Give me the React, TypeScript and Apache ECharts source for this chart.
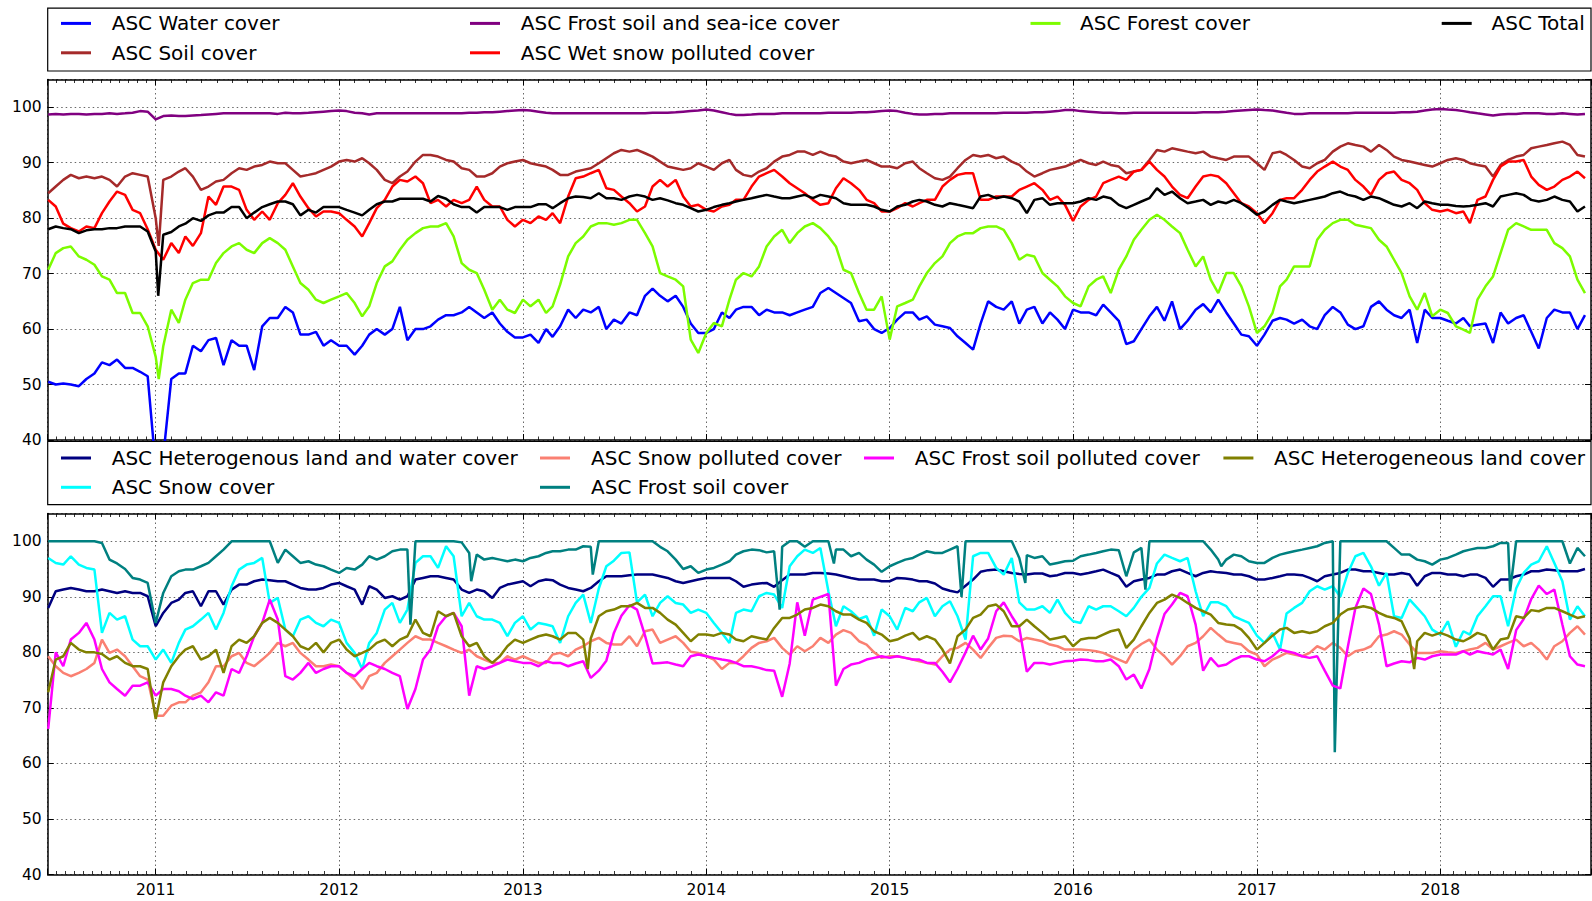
import React, { useEffect, useRef } from "react";
import * as echarts from "echarts";

// ---------- x positions: 1st and 16th of each month, Jun 2010 .. Oct 2018 ----------
function buildDates(): string[] {
  const out: string[] = [];
  for (let y = 2010; y <= 2018; y++) {
    for (let m = 1; m <= 12; m++) {
      if (y === 2010 && m < 6) continue;
      if (y === 2018 && m > 10) continue;
      for (const d of [1, 16]) out.push(`${y}-${String(m).padStart(2, "0")}-${String(d).padStart(2, "0")}`);
    }
  }
  return out;
}
const DATES = buildDates();
const X_MIN = "2010-05-31";
const X_MAX = "2018-10-28";

// ---------- top panel series ----------
const WATER = [
  50.5, 50, 50.2, 50, 49.7, 51, 52, 54, 53.5, 54.5, 53, 53, 52.3, 51.5,
  35, 37, 51, 52, 52, 57, 56, 58, 58.4, 53.5, 58, 57, 57, 52.6, 60.5, 62, 62, 64, 63, 59, 59, 59.5, 57, 58,
  57, 57, 55.4, 57, 59, 60, 59, 60, 64, 58, 60, 60, 60.5, 61.7, 62.5, 62.5, 63, 64, 63, 62, 63, 61, 59.5, 58.5,
  58.5, 59, 57.5, 60, 58.6, 60.5, 63.5, 62, 63.5, 63, 64, 60, 61.7, 61, 63, 62.5, 66, 67.3, 66, 65, 66, 64, 61, 59.3,
  59.3, 60, 63, 62, 63.5, 64, 64, 62.5, 63.5, 63, 63, 62.5, 63, 63.5, 64, 66.5, 67.4, 66.5, 65.6, 64.7, 61.4, 61.7, 60, 59.3,
  60.2, 61.7, 63, 63, 61.7, 62.3, 60.8, 60.5, 60.2, 58.7, 57.5, 56.3, 61, 65, 64, 63.5, 65, 61, 63.5, 64, 61, 63, 61.7, 60,
  63.5, 63, 63, 62.5, 64.4, 63, 61.5, 57.3, 57.8, 60, 62.3, 64, 61.5, 65, 60, 61.5, 63.5, 64.5, 63, 65.3, 63, 61, 59, 58.7,
  57, 59, 61.5, 62, 61.7, 61, 61.7, 60.5, 60, 62.5, 64, 63, 60.8, 60, 60.5, 64, 65, 63.5, 62.5, 62, 63.5, 57.5, 63.5, 62,
  62, 61.5, 61, 62, 60.5, 60.8, 61, 57.5, 63, 61, 62, 62.5, 59.5, 56.5, 62, 63.5, 63, 63, 60, 62.5,
];
const WATER_EXTRA: [string, number][] = [["2011-01-08", 30]];

const SOIL = [
  84.5, 85.7, 86.9, 87.8, 87.2, 87.5, 87.2, 87.5, 86.9, 85.7, 87.5, 88.1, 87.8, 87.5,
  80, 86.9, 87.5, 88.4, 89, 87.5, 85.1, 85.7, 86.6, 86.9, 88.1, 89, 88.7, 89.3, 89.6, 90.2, 89.9, 89.9, 88.7, 87.5, 87.8, 88.1, 88.7, 89.3,
  90.2, 90.5, 90.2, 90.8, 89.9, 88.7, 86.9, 86.3, 87.5, 88.4, 90.2, 91.4, 91.4, 91.1, 90.5, 90.2, 89, 88.7, 87.5, 87.5, 88.1, 89.3, 89.9, 90.2,
  90.5, 89.9, 89.6, 89.3, 88.7, 87.8, 87.8, 88.4, 88.7, 89, 89.9, 90.8, 91.7, 92.3, 92, 92.3, 91.7, 91.1, 90.2, 89.3, 89, 88.7, 89, 89.9,
  89.3, 88.7, 89.9, 90.5, 88.7, 87.8, 87.5, 88.4, 89, 90.2, 91.1, 91.4, 92, 92, 91.4, 92, 91.4, 91.1, 90.2, 89.9, 90.2, 90.5, 89.9, 89.3,
  89.3, 89, 89.9, 90.2, 89, 88.1, 87.2, 86.9, 87.5, 89, 90.5, 91.4, 91.1, 91.4, 90.8, 91.1, 90.2, 89.6, 88.4, 87.5, 88.1, 88.7, 89, 89.3,
  89.9, 90.5, 89.9, 89.6, 90.2, 89.6, 89.3, 88.1, 88.4, 88.7, 90.5, 92.3, 92, 92.6, 92.3, 92, 91.7, 92, 91.1, 90.8, 90.5, 91.1, 91.1, 91.1,
  89.9, 88.7, 91.7, 92, 91.4, 90.5, 89.3, 89, 89.9, 90.5, 92, 92.9, 93.5, 93.2, 92.9, 92, 93.2, 92.3, 91.1, 90.5, 90.2, 89.9, 89.6, 89.3,
  89.9, 90.5, 90.8, 90.5, 89.9, 89.6, 89.3, 87.5, 89.6, 90.5, 91.1, 91.4, 92.6, 92.9, 93.2, 93.5, 93.8, 93.2, 91.4, 91.1,
];
const SOIL_EXTRA: [string, number][] = [["2011-01-07", 75]];

const SEA_ICE = [
  98.7, 98.8, 98.7, 98.8, 98.8, 98.7, 98.8, 98.8, 98.9, 98.8, 98.9, 99.0, 99.3, 99.2,
  97.8, 98.4, 98.5, 98.4, 98.4, 98.5, 98.6, 98.7, 98.8, 98.9, 98.9, 98.9, 98.9, 98.9, 98.9, 98.9, 98.8, 99.0, 98.9, 98.9, 99.0, 99.1, 99.2, 99.3,
  99.4, 99.3, 99.0, 98.9, 98.7, 98.9, 98.9, 98.9, 98.9, 98.9, 98.9, 98.9, 98.9, 98.9, 98.9, 98.9, 98.9, 99.0, 99.0, 99.1, 99.1, 99.2, 99.3, 99.4,
  99.5, 99.4, 99.2, 99.0, 98.9, 98.9, 98.9, 98.9, 98.9, 98.9, 98.9, 98.9, 98.9, 98.9, 98.9, 98.9, 98.9, 99.0, 99.0, 99.0, 99.1, 99.2, 99.3, 99.4,
  99.6, 99.4, 99.1, 98.8, 98.6, 98.6, 98.7, 98.8, 98.8, 98.8, 98.9, 98.9, 98.9, 98.9, 98.9, 98.9, 99.0, 99.0, 99.0, 99.0, 99.1, 99.1, 99.2, 99.3,
  99.4, 99.3, 99.0, 98.8, 98.7, 98.7, 98.8, 98.8, 98.9, 98.9, 98.9, 98.9, 98.9, 98.9, 98.9, 99.0, 99.0, 99.0, 99.0, 99.1, 99.1, 99.2, 99.3, 99.5,
  99.5, 99.3, 99.2, 99.1, 99.0, 99.0, 98.9, 98.9, 99.0, 99.0, 99.0, 99.0, 99.0, 99.0, 99.0, 99.0, 99.0, 99.1, 99.1, 99.1, 99.2, 99.3, 99.4, 99.5,
  99.6, 99.5, 99.4, 99.2, 99.0, 98.8, 98.8, 98.9, 98.9, 98.9, 98.9, 98.9, 98.9, 99.0, 99.0, 99.0, 99.0, 99.0, 99.0, 99.1, 99.1, 99.2, 99.4, 99.6,
  99.7, 99.6, 99.5, 99.3, 99.1, 98.9, 98.7, 98.5, 98.7, 98.8, 98.8, 98.9, 98.9, 98.9, 98.8, 98.8, 98.9, 98.8, 98.7, 98.8,
];

const WET_SNOW = [
  83.3, 82.1, 79, 78.2, 77.6, 78.5, 78.2, 80.9, 83, 84.8, 84.2, 81.5, 80.9, 78,
  74.3, 72.5, 75.5, 73.7, 76.7, 75, 77.3, 83.9, 82.4, 85.7, 85.7, 85.1, 81.5, 79.7, 81.2, 79.7, 82.7, 84.2, 86.3, 83.9, 81.8, 80.3, 81.2, 81.2,
  80.9, 79.7, 78.5, 76.7, 79.1, 81.8, 83.3, 85.7, 86.9, 86.6, 87.5, 86.3, 82.7, 83.3, 82.1, 83.3, 82.7, 83.3, 85.7, 83.3, 82.1, 82.1, 79.7, 78.5,
  79.7, 79.1, 80.3, 79.7, 80.9, 79.1, 83.9, 87.2, 87.5, 88.1, 88.7, 85.4, 85.1, 83.9, 82.7, 81.2, 82.1, 85.7, 86.9, 85.7, 86.9, 83.9, 82.1, 82.4,
  81.5, 81.2, 82.1, 82.4, 83.3, 83.3, 85.7, 87.5, 88.1, 88.7, 87.5, 86.3, 85.4, 84.5, 83.3, 82.4, 82.7, 85.4, 87.2, 86.3, 85.1, 83.3, 82.7, 81.2,
  81.2, 81.8, 82.7, 82.1, 82.7, 83.3, 83.3, 85.7, 86.9, 87.8, 88.1, 88.1, 83.3, 83.3, 83.9, 83.9, 83.9, 85.1, 85.7, 86.3, 85.1, 83.3, 83.9, 82.4,
  79.5, 82.1, 83.3, 83.9, 86.3, 86.9, 87.5, 86.9, 88.4, 88.7, 90.2, 88.7, 87.5, 85.7, 84.2, 83.6, 85.7, 87.5, 87.8, 87.5, 86.3, 84.5, 82.7, 82.1,
  80.9, 79.1, 80.9, 83.3, 83.6, 83.6, 85.1, 86.9, 88.4, 89.3, 90.2, 89.3, 88.7, 86.9, 85.7, 84.2, 86.9, 88.1, 88.4, 86.9, 86.3, 85.1, 82.7, 81.5,
  81.2, 81.5, 80.9, 81.2, 79.1, 83.3, 83.9, 86.9, 89.3, 90.2, 90.2, 90.5, 87.5, 86, 85.1, 85.7, 86.9, 87.5, 88.4, 87.2,
];

const FOREST = [
  70.7, 73.7, 74.6, 74.9, 73.1, 72.5, 71.6, 69.5, 68.9, 66.5, 66.5, 62.9, 62.9, 60.5,
  55, 56.9, 63.5, 61.1, 65.3, 68.3, 68.9, 68.9, 71.9, 73.7, 74.9, 75.5, 74.3, 73.7, 75.5, 76.4, 75.5, 74.3, 71.3, 68.3, 67.1, 65.3, 64.7, 65.3,
  65.9, 66.5, 64.7, 62.3, 64.1, 68.3, 71.3, 72.2, 74.3, 76.1, 77.3, 78.2, 78.5, 78.5, 79.1, 76.7, 71.9, 70.7, 70.1, 67.1, 63.5, 65.3, 63.5, 62.9,
  65.3, 64.1, 65.3, 62.9, 64.1, 68, 73.1, 75.5, 76.7, 78.5, 79.1, 79.1, 78.8, 79.1, 79.7, 79.7, 77.3, 74.9, 70.1, 69.5, 68.9, 67.7, 58.1, 55.7,
  59.3, 61.1, 60.5, 65.3, 68.9, 70.1, 69.5, 71.3, 74.9, 76.7, 77.9, 75.5, 77.3, 78.5, 79.1, 78.2, 76.7, 74.9, 70.7, 70.1, 66.5, 63.5, 63.5, 65.9,
  58.1, 64.1, 64.7, 65.3, 67.7, 70.1, 71.9, 73.1, 75.5, 76.7, 77.3, 77.3, 78.2, 78.5, 78.5, 77.9, 75.5, 72.5, 73.4, 73.1, 70.1, 68.9, 67.7, 65.9,
  64.7, 64.1, 67.7, 68.9, 69.5, 66.5, 70.7, 73.1, 76.1, 77.9, 79.7, 80.6, 79.7, 78.5, 77.3, 74.3, 71.3, 73.1, 68.9, 66.5, 70.1, 70.1, 67.7, 64.1,
  59.3, 60.5, 62.9, 67.7, 68.9, 71.3, 71.3, 71.3, 76.1, 77.9, 79.1, 79.7, 79.7, 78.8, 78.5, 78.2, 76.1, 74.9, 72.5, 70.1, 65.9, 63.5, 66.5, 62.3,
  63.5, 62.9, 60.5, 59.9, 59.3, 65.3, 67.7, 69.5, 73.7, 77.9, 79.1, 78.5, 77.9, 77.9, 77.9, 75.5, 74.6, 73.1, 68.9, 66.5,
];
const FOREST_EXTRA: [string, number][] = [["2011-01-07", 51]];

const TOTAL = [
  78, 78.5, 78.2, 78, 77.3, 77.8, 78, 78, 78.2, 78.2, 78.5, 78.5, 78.5, 77.6,
  74, 77, 77.5, 78.5, 79, 80, 79.5, 80.5, 81, 81, 82, 82, 80, 81, 82, 82.5, 83, 83, 82.5, 80.5, 81.5, 81, 82, 82,
  82, 81.5, 81, 80.5, 81.5, 82.5, 83, 83, 83.5, 83.5, 83.5, 83.5, 83, 84, 83.5, 82.5, 82, 82, 81, 82, 82, 82, 81.5, 82,
  82, 82, 82.5, 82.5, 81.8, 82.7, 83.6, 83.9, 83.8, 83.6, 84.5, 83.6, 83.6, 83.3, 83.9, 84.2, 83.9, 83.3, 83.6, 83.2, 82.7, 82.4, 81.8, 81.2,
  81.5, 82, 82.4, 82.7, 83, 83.3, 83.6, 83.9, 84.2, 83.9, 83.6, 83.6, 83.9, 84.2, 83.6, 84.2, 83.9, 83.6, 82.7, 82.4, 82.4, 82.4, 82.1, 81.5,
  81.2, 82.1, 82.4, 83, 83.3, 83, 82.4, 82.1, 82.7, 82.4, 82.1, 81.8, 83.9, 84.2, 83.6, 83.9, 83.6, 83, 80.9, 83.3, 83.6, 82.4, 82.7, 82.7,
  82.7, 83, 83.6, 83.3, 83.9, 83.6, 82.4, 81.8, 82.4, 83, 83.6, 85.4, 84.2, 84.8, 83.6, 82.7, 83, 83.3, 82.4, 83, 82.7, 83.3, 82.7, 81.8,
  80.6, 81.2, 82.4, 83.3, 83, 82.7, 83, 83.3, 83.6, 83.9, 84.5, 84.8, 84.2, 83.9, 83.3, 83.9, 83.6, 83, 82.4, 82.1, 82.7, 81.8, 83, 82.7,
  82.4, 82.4, 82.2, 82.1, 82.2, 82.4, 82.7, 82.1, 83.9, 84.2, 84.5, 84.2, 83.3, 83, 83.3, 83.9, 83.3, 83, 81.2, 82.1,
];
const TOTAL_EXTRA: [string, number][] = [["2011-01-06", 66]];

// ---------- bottom panel series ----------
const HET_LAND_WATER = [
  88, 91, 91.3, 91.6, 91.3, 91, 91, 91.3, 91, 90.7, 91, 90.7, 90.7, 90.1,
  84.7, 87.1, 88.9, 89.5, 90.7, 91, 88.3, 91, 91, 88.6, 91.3, 92.2, 92.2, 92.8, 93.1, 93, 92.8, 92.8, 92.2, 91.6, 91.3, 91.3, 91.6, 92.2,
  92.5, 91.9, 91.3, 88.6, 91.9, 91.3, 89.8, 90.1, 89.5, 90.1, 93.1, 93.4, 93.7, 93.7, 93.4, 93.1, 91.3, 90.7, 91.3, 91, 89.8, 91.6, 92.2, 92.5,
  92.8, 91.9, 92.8, 93.1, 93, 92.2, 91.6, 91.3, 91, 91.6, 92.8, 93.7, 93.7, 93.7, 93.9, 94, 94, 94, 93.7, 93.4, 92.8, 92.5, 92.8, 93.1,
  93.4, 93.4, 93.4, 93.4, 92.8, 91.8, 92.2, 92.4, 92.5, 91.8, 93, 94, 94, 94, 94.3, 94.3, 94.2, 94, 93.7, 93.4, 93.1, 93.1, 93.1, 92.8,
  92.8, 93.4, 93.3, 93.1, 92.8, 92.8, 92.4, 91.5, 91.1, 90.8, 92, 93.1, 94.5, 94.8, 94.9, 94.6, 94.3, 94.1, 94, 94.2, 94.2, 93.7, 93.9, 94.3,
  94.3, 94, 94.3, 94.6, 94.9, 94.3, 93.7, 91.8, 92.8, 93.1, 93.4, 94, 94, 94.6, 94.9, 94.3, 93.7, 94.3, 94.6, 94.4, 94.3, 94, 94, 93.7,
  93.1, 93.1, 93.4, 93.7, 94, 94, 93.9, 93.4, 92.8, 93.7, 94, 94.3, 94.9, 94.9, 94.6, 94.6, 94.3, 94, 94, 94.3, 94, 92, 93.7, 94.3,
  94.3, 94, 94, 93.7, 94, 94, 93.4, 91.8, 93.1, 93.1, 93.7, 94, 94.6, 94.6, 94.9, 94.8, 94.6, 94.6, 94.6, 95,
];

const SNOW = [
  97, 96.1, 95.8, 97.3, 95.8, 95.2, 94.9, 83.5, 87.1, 85.9, 86.5, 82.3, 81.1, 81.1,
  78.7, 80.5, 78.1, 81.7, 84.1, 84.7, 85.9, 87.1, 84.1, 87.1, 91.9, 94.9, 95.8, 96.1, 97, 88.9, 89.8, 84.1, 82.9, 85.9, 86.5, 85.3, 84.7, 85.9,
  85.3, 81.7, 79.9, 77, 81.7, 83.5, 87.7, 88.9, 85.3, 87.7, 96.1, 97.3, 97.3, 95.2, 99.1, 97.3, 86.5, 88.9, 86.5, 85.9, 85.9, 85.3, 82.9, 85.3,
  86.5, 84.1, 85.3, 85, 84.7, 81.7, 86.5, 88.9, 90.4, 85.3, 91.5, 95.5, 96.5, 97.9, 98, 89, 90.4, 86.5, 88.9, 90.1, 88.9, 88.6, 87.1, 87.7,
  87.1, 85.3, 83.5, 81.7, 87.1, 87.7, 87.4, 90.1, 90.7, 90.4, 88, 95.5, 97.3, 98.5, 97.9, 98.8, 91, 84.7, 88.3, 87.4, 86, 86.5, 83, 87.7,
  86.5, 84.1, 88, 87.4, 89, 89.8, 86.5, 88.3, 89.2, 86.5, 82.3, 97.3, 97.9, 97.9, 95.2, 94, 97, 89, 87.7, 87.7, 88.3, 87.1, 89.5, 87.1,
  85.6, 85.3, 88.3, 87.7, 88.3, 88.3, 87.4, 86.5, 88, 90, 91.6, 96, 97.6, 97, 96.4, 97, 91, 86.5, 89, 89, 88.3, 86.5, 85.9, 85.3,
  83, 81.7, 83.5, 80.5, 87, 88, 88.9, 91, 91.9, 91.3, 91.9, 90, 94.3, 97.3, 97.9, 95.5, 92, 94.3, 86.5, 86.2, 89.5, 88, 86.5, 84.1,
  83.2, 85.6, 81, 83.8, 83.2, 86.5, 88.3, 90.1, 90.1, 84.7, 91.5, 94.3, 95.8, 96.4, 99.1, 96.1, 92.8, 85.9, 88.3, 86.5,
];

const SNOW_POLLUTED = [
  79.3, 77.5, 76.3, 75.7, 76.3, 77, 78.1, 82.3, 79.9, 80.5, 79.3, 77.5, 75.7, 75.1,
  68.6, 68.6, 70.4, 71, 71, 72.2, 72.8, 74.6, 77.5, 77.5, 79.3, 79.9, 78.1, 77.5, 78.7, 79.9, 81.7, 81.1, 81.7, 79.9, 78.7, 77.5, 77.5, 77.8,
  77.5, 76.3, 75.1, 73.4, 75.7, 76.3, 78.1, 79.3, 80.5, 81.7, 82.9, 82.3, 82.3, 81.7, 81.1, 80.5, 79.9, 80.5, 79.3, 78.7, 78.1, 78.1, 79.3, 78.7,
  79.3, 78.7, 78.1, 78.1, 79.6, 79.9, 79.3, 80.5, 81.1, 82, 82.6, 81.7, 81.4, 81.4, 82.9, 81.1, 83.8, 84.1, 81.7, 82.3, 82.9, 81.7, 80.1, 79.9,
  79.3, 78.7, 77, 78.1, 78.1, 79.3, 80.8, 81.7, 82, 82.6, 80.8, 79.6, 81.1, 80.2, 81.1, 82.6, 81.7, 83.2, 84, 83.5, 82, 81.4, 80, 79,
  79.3, 79.3, 79, 78.7, 78.4, 78.1, 77.8, 79.3, 80.5, 80.8, 81.7, 80.5, 79, 80.8, 82.6, 83, 82.9, 82, 82.6, 82.3, 82, 81.4, 81.1, 80.5,
  80.5, 80.5, 80.4, 80.2, 79.9, 79.3, 78.7, 78.1, 80.5, 81.5, 82.3, 80.5, 79.3, 77.8, 79.3, 81.1, 81.7, 82.9, 84.4, 83.2, 82, 81.7, 81.4, 80.2,
  79.6, 77.5, 78.7, 79.3, 79.9, 79.6, 79.3, 79.9, 81.1, 80.5, 81.7, 80.8, 79.3, 80.2, 80.5, 81.1, 82.9, 83.2, 83.8, 83.2, 81.4, 79.9, 79.9, 79.9,
  80.2, 80, 79.9, 80.2, 80.5, 80.8, 81.7, 80.5, 81.1, 81.7, 82.3, 81.1, 81.7, 80.5, 78.7, 81.1, 82, 83.5, 84.7, 83.2,
];

const FROST_SOIL = [
  100, 100, 100, 100, 100, 100, 100, 99.7, 96.7, 96, 95, 93.4, 93.1, 92.5,
  85.3, 90.7, 93.7, 94.6, 94.9, 94.9, 95.5, 96.1, 97.3, 98.5, 100, 100, 100, 100, 100, 100, 96.1, 98.5, 97.3, 96.1, 96.4, 95.8, 95.5, 94.9,
  94.3, 95.2, 94.9, 95.8, 97.3, 96.7, 97.3, 98.2, 98.5, 98.5, 100, 100, 100, 100, 100, 100, 99.8, 97.9, 97.6, 96.7, 97, 96.7, 96.4, 96.7,
  96.4, 97, 97.3, 97.9, 98.2, 98.2, 98.5, 98.5, 99.1, 99, 100, 100, 100, 100, 100, 100, 100, 100, 99, 98.2, 96.7, 95, 95.5, 94.3,
  94.9, 95.2, 95.8, 96.4, 97.6, 98.2, 98.5, 98.4, 98, 98.2, 99, 100, 100, 99, 100, 100, 100, 98.5, 98.5, 97.3, 97.9, 96.7, 95.8, 94.5,
  95.5, 96.1, 96.7, 97, 97.6, 98.2, 97.9, 97.9, 98.5, 99.1, 100, 100, 100, 100, 100, 100, 100, 97, 97.5, 97, 97.3, 95.8, 96.1, 96.4,
  96.5, 97.3, 97.6, 97.9, 98.2, 98.5, 98.4, 93.7, 98, 98.8, 100, 100, 100, 100, 100, 100, 100, 100, 98.5, 96.7, 96.7, 97.6, 97.3, 96.4,
  96.1, 96.1, 97, 97.6, 97.9, 98.2, 98.5, 98.8, 99.1, 99.7, 100, 100, 100, 100, 100, 100, 100, 100, 98.8, 97.6, 97.6, 96.7, 96.4, 95.8,
  96.7, 97, 97.6, 98.2, 98.5, 98.8, 98.8, 99.1, 99.7, 99.7, 100, 100, 100, 100, 100, 100, 100, 96, 98.8, 97.3,
];
const FROST_SOIL_EXTRA: [string, number][] = [
  ["2012-05-22", 85], ["2012-09-20", 92.8], ["2013-05-20", 94], ["2014-05-27", 87.7],
  ["2014-09-12", 96], ["2015-05-24", 90], ["2015-09-28", 92.5], ["2016-05-24", 91.3],
  ["2016-10-22", 95.5], ["2017-06-05", 62], ["2018-05-20", 91],
];

const FROST_SOIL_POLLUTED = [
  66.2, 80, 77.5, 82.3, 83.5, 85.3, 82.3, 77, 74.6, 73.4, 72.2, 74, 74, 74.6,
  72.2, 73.4, 73.4, 73, 72.2, 71.6, 72.2, 71, 72.8, 72.2, 77, 76.3, 79.3, 82.9, 85.3, 89.5, 85.9, 75.7, 75.1, 76.3, 78.1, 76.3, 77, 77.5,
  77.5, 76.3, 75.7, 77, 78.1, 77.5, 77, 76.3, 75.7, 69.8, 73.4, 78.7, 80.5, 84.7, 86.5, 87.1, 84.7, 72.2, 77.5, 77, 77.5, 78.1, 78.7, 78.4,
  78.1, 78.1, 77.5, 78.4, 78.1, 78.1, 77.5, 78, 78.4, 75.4, 76.7, 78.5, 83.5, 86.6, 88.5, 87.7, 83, 78, 78.1, 78.2, 77.8, 77.5, 79.3, 79.6,
  79.3, 79, 78.7, 78.5, 78.1, 77.5, 77.5, 77.2, 76.8, 76.7, 72, 78, 89, 83, 89.5, 90, 90.5, 74, 77, 77.8, 78.1, 78.7, 79, 79.3,
  79, 79.3, 79, 78.7, 78.7, 78.1, 78.1, 76.5, 74.6, 77, 80, 83, 80.5, 82.5, 87.4, 89, 86.5, 84.4, 76.5, 78.1, 78.1, 77.8, 78.1, 78.4,
  78.5, 78.7, 78.6, 78.4, 78.4, 78.7, 77.5, 75.1, 76, 73.5, 77, 82.5, 86.9, 88.6, 90.7, 90.1, 85, 76.7, 79, 77.5, 77.8, 78.7, 79.3, 79.3,
  78.7, 78.4, 79.3, 80.5, 80.2, 79.9, 79.3, 79, 79.3, 76.7, 74, 73.5, 81, 88, 91.5, 90.5, 85, 77.5, 78, 78.4, 78.2, 79, 78.7, 79.3,
  79.6, 79.6, 79.6, 80.2, 79.6, 80.2, 79.9, 79.6, 80.5, 77, 84, 86, 89.6, 92, 90.5, 91.3, 85, 79.3, 77.8, 77.5,
];

const HET_LAND = [
  72.8, 78.7, 79.3, 81.7, 80.5, 80, 80, 79.7, 78.7, 79.3, 78.1, 77.5, 77.5, 77,
  68, 74.6, 77.5, 79.3, 80.5, 81.1, 78.7, 79.3, 80.5, 76.3, 81.1, 82.3, 81.7, 82.9, 85.3, 86.2, 85.3, 84.1, 82.9, 81.1, 80.5, 81.7, 80, 81.7,
  82.3, 80.5, 79.3, 79.9, 80.5, 81.7, 82.3, 81.1, 82.3, 82.9, 85.9, 83.5, 82.9, 87.4, 86.5, 87.1, 82.9, 81.1, 81.7, 79.3, 78.1, 79.3, 81.1, 82.3,
  81.7, 82.3, 82.9, 83.2, 82.9, 82.3, 83.5, 83.5, 82.3, 82.5, 86.5, 87.4, 87.7, 88.3, 88.3, 88.9, 88, 88, 87.1, 85.9, 85, 83.5, 82, 83.2,
  83.2, 83, 83.5, 83.2, 82.3, 82, 82.9, 82.6, 82.3, 84.4, 86.2, 86.2, 86.8, 87.7, 88, 88.6, 88.3, 87.4, 86.8, 86.8, 85.9, 85.3, 83.8, 83.2,
  82, 82.3, 83, 83.5, 82.3, 82.9, 82.3, 80.5, 78, 82.9, 84.1, 86.2, 86.8, 88.3, 88.6, 87.4, 84.7, 84.7, 85.9, 84.7, 83.5, 82.3, 82.6, 82.9,
  81.1, 82.3, 82.6, 82.6, 83.2, 83.8, 84.1, 80.8, 82.3, 84.7, 87.1, 88.9, 89.5, 90.4, 89.8, 88.9, 88, 87.4, 86.8, 85.3, 85, 84.9, 84.1, 82.6,
  80.5, 81.7, 83, 84.1, 84.4, 83.5, 83.8, 83.5, 83.8, 84.7, 85.3, 86.8, 87.7, 88, 88.3, 88, 87.1, 86.5, 86.2, 85.6, 82.5, 82, 83.5, 83,
  83.5, 83, 82.3, 82, 82.6, 83.5, 83, 80.5, 82.3, 82.6, 86.5, 86.2, 87.6, 87.4, 88, 88, 87.4, 86.8, 86.2, 86.5,
];
const HET_LAND_EXTRA: [string, number][] = [["2013-05-10", 77], ["2017-11-10", 77]];

// ---------- series definitions (names, colours) ----------
type Def = { name: string; color: string; values: number[]; extra?: [string, number][] };
const TOP_SERIES: Def[] = [
  { name: "ASC Water cover", color: "#0000ff", values: WATER, extra: WATER_EXTRA },
  { name: "ASC Soil cover", color: "#a52a2a", values: SOIL, extra: SOIL_EXTRA },
  { name: "ASC Frost soil and sea-ice cover", color: "#800080", values: SEA_ICE },
  { name: "ASC Wet snow polluted cover", color: "#ff0000", values: WET_SNOW },
  { name: "ASC Forest cover", color: "#7cfc00", values: FOREST, extra: FOREST_EXTRA },
  { name: "ASC Total", color: "#000000", values: TOTAL, extra: TOTAL_EXTRA },
];
const BOTTOM_SERIES: Def[] = [
  { name: "ASC Heterogenous land and water cover", color: "#000080", values: HET_LAND_WATER },
  { name: "ASC Snow cover", color: "#00ffff", values: SNOW },
  { name: "ASC Snow polluted cover", color: "#fa8072", values: SNOW_POLLUTED },
  { name: "ASC Frost soil cover", color: "#008080", values: FROST_SOIL, extra: FROST_SOIL_EXTRA },
  { name: "ASC Frost soil polluted cover", color: "#ff00ff", values: FROST_SOIL_POLLUTED },
  { name: "ASC Heterogeneous land cover", color: "#808000", values: HET_LAND, extra: HET_LAND_EXTRA },
];

const Y_MIN = 40;
const Y_MAX = 105;
const Y_STEP = 10;

function pairs(vals: number[], extra: [string, number][] = []) {
  const pts: [string, number][] = DATES.map((d, k) => [d, vals[k]] as [string, number]);
  const all = pts.concat(extra);
  all.sort((a, b) => (a[0] < b[0] ? -1 : a[0] > b[0] ? 1 : 0));
  return all;
}

const FONT = "DejaVu Sans";
const DAY = 24 * 3600 * 1000;
const LINE_W = 2.5;

// ---------- layout ----------
const PL = 47.7;
const PR = 1591;
const G1_TOP = 79.5, G1_BOT = 440;
const G2_TOP = 513.5, G2_BOT = 874.5;

function xAxes(gridIndex: number, showLabels: boolean) {
  const common: any = {
    type: "time",
    gridIndex,
    min: X_MIN,
    max: X_MAX,
    minInterval: 360 * DAY,
    maxInterval: 370 * DAY,
    axisLine: { show: true, onZero: false, lineStyle: { color: "#000", width: 1.5 } },
    axisTick: { show: true, inside: true, length: 6, lineStyle: { color: "#000", width: 1 } },
    minorTick: { show: true, splitNumber: 12, length: 3.5, lineStyle: { color: "#000", width: 0.8 } },
  };
  return [
    {
      ...common,
      position: "bottom",
      axisLabel: {
        show: showLabels,
        color: "#000",
        fontFamily: FONT,
        fontSize: 15.5,
        margin: 7,
        formatter: (v: number) => {
          const d = new Date(v);
          return d.getMonth() === 0 && d.getDate() === 1 ? String(d.getFullYear()) : "";
        },
      },
      splitLine: { show: true, lineStyle: { color: "#000", type: [1.5, 3], width: 0.8, opacity: 0.75 } },
    },
    {
      ...common,
      position: "top",
      axisLabel: { show: false },
      splitLine: { show: false },
    },
  ];
}

function yAxes(gridIndex: number) {
  const common: any = {
    type: "value",
    gridIndex,
    min: Y_MIN,
    max: Y_MAX,
    interval: Y_STEP,
    axisLine: { show: true, onZero: false, lineStyle: { color: "#000", width: 1.5 } },
    axisTick: { show: true, inside: true, length: 6, lineStyle: { color: "#000", width: 1 } },
  };
  return [
    {
      ...common,
      position: "left",
      axisLabel: { color: "#000", fontFamily: FONT, fontSize: 15.5, margin: 6, showMaxLabel: false },
      splitLine: { show: true, lineStyle: { color: "#000", type: [1.5, 3], width: 0.8, opacity: 0.75 } },
    },
    {
      ...common,
      position: "right",
      axisLabel: { show: false },
      splitLine: { show: false },
    },
  ];
}

type LegendPos = { lineX: number; textX: number; y: number };
const LEG1_POS: LegendPos[] = [
  { lineX: 61, textX: 111.7, y: 23.4 },
  { lineX: 61, textX: 111.7, y: 52.8 },
  { lineX: 470, textX: 520.8, y: 23.4 },
  { lineX: 470, textX: 520.8, y: 52.8 },
  { lineX: 1030.5, textX: 1080, y: 23.4 },
  { lineX: 1441.7, textX: 1491.5, y: 23.4 },
];
const LEG2_POS: LegendPos[] = [
  { lineX: 61, textX: 111.7, y: 458 },
  { lineX: 61, textX: 111.7, y: 487.3 },
  { lineX: 540, textX: 591, y: 458 },
  { lineX: 540, textX: 591, y: 487.3 },
  { lineX: 864, textX: 914.8, y: 458 },
  { lineX: 1223.4, textX: 1274, y: 458 },
];

function legendGraphics(defs: Def[], pos: LegendPos[], boxTop: number, boxBot: number) {
  const els: any[] = [
    {
      type: "rect",
      shape: { x: PL, y: boxTop, width: PR - PL, height: boxBot - boxTop },
      style: { fill: "#fff", stroke: "#000", lineWidth: 1.2 },
      z: 10,
    },
  ];
  defs.forEach((d, k) => {
    const p = pos[k];
    els.push({
      type: "line",
      shape: { x1: p.lineX, y1: p.y, x2: p.lineX + 30, y2: p.y },
      style: { stroke: d.color, lineWidth: 3 },
      z: 11,
    });
    els.push({
      type: "text",
      x: p.textX,
      y: p.y,
      style: { text: d.name, fill: "#000", fontSize: 20, fontFamily: FONT, verticalAlign: "middle", align: "left" },
      z: 11,
    });
  });
  return els;
}

export default function App() {
  const ref = useRef<HTMLDivElement>(null);
  useEffect(() => {
    if (!ref.current) return;
    const chart = echarts.init(ref.current, undefined, { renderer: "svg" });
    const series: any[] = [];
    TOP_SERIES.forEach((d) =>
      series.push({
        type: "line",
        name: d.name,
        xAxisIndex: 0,
        yAxisIndex: 0,
        data: pairs(d.values, d.extra),
        showSymbol: false,
        symbol: "none",
        silent: true,
        clip: true,
        lineStyle: { color: d.color, width: LINE_W },
        itemStyle: { color: d.color },
      })
    );
    BOTTOM_SERIES.forEach((d) =>
      series.push({
        type: "line",
        name: d.name,
        xAxisIndex: 2,
        yAxisIndex: 2,
        data: pairs(d.values, d.extra),
        showSymbol: false,
        symbol: "none",
        silent: true,
        clip: true,
        lineStyle: { color: d.color, width: LINE_W },
        itemStyle: { color: d.color },
      })
    );
    chart.setOption({
      animation: false,
      backgroundColor: "#fff",
      textStyle: { fontFamily: FONT },
      grid: [
        { left: PL, right: 1592 - PR, top: G1_TOP, height: G1_BOT - G1_TOP, containLabel: false },
        { left: PL, right: 1592 - PR, top: G2_TOP, height: G2_BOT - G2_TOP, containLabel: false },
      ],
      xAxis: [...xAxes(0, false), ...xAxes(1, true)],
      yAxis: [...yAxes(0), ...yAxes(1)],
      series,
      graphic: [
        ...legendGraphics(TOP_SERIES, LEG1_POS, 8.1, 71),
        ...legendGraphics(BOTTOM_SERIES, LEG2_POS, 441.5, 504.6),
      ],
    });
    return () => chart.dispose();
  }, []);
  return <div ref={ref} style={{ position: "absolute", left: 0, top: 0, width: 1592, height: 901, background: "#fff" }} />;
}
